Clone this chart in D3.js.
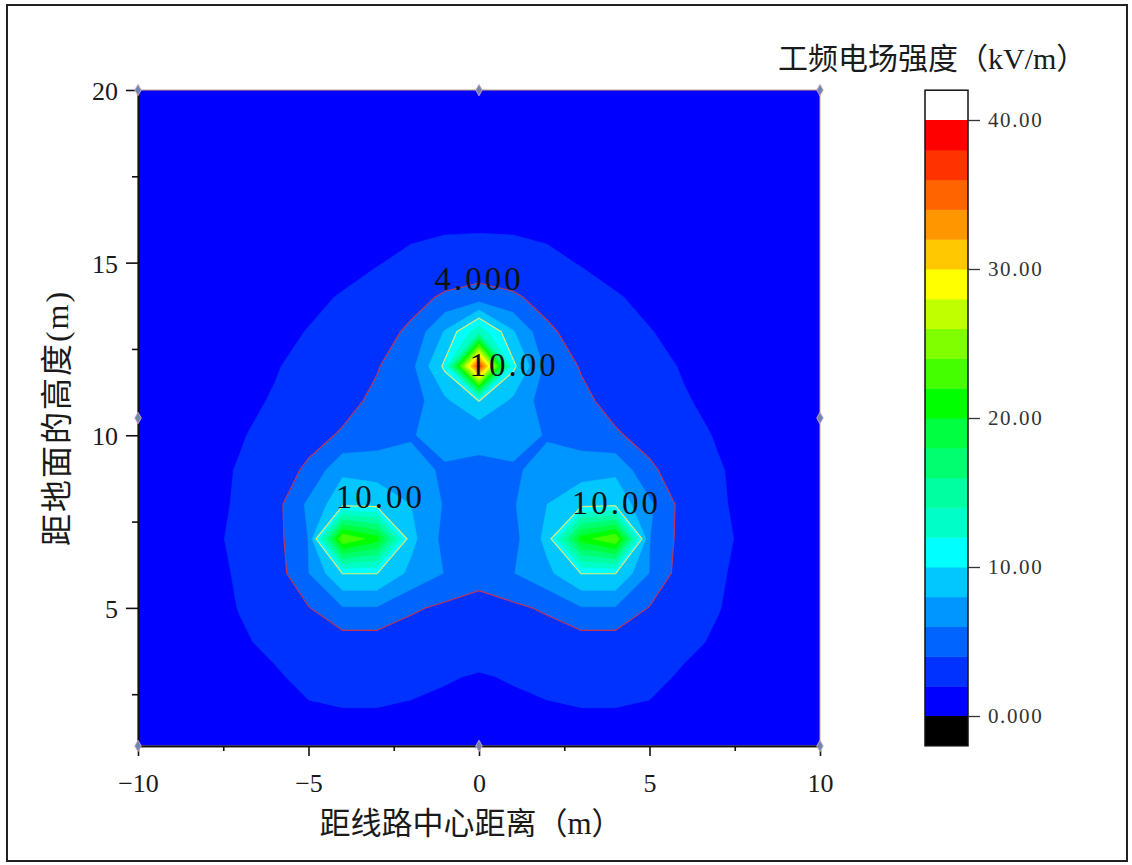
<!DOCTYPE html>
<html>
<head>
<meta charset="utf-8">
<script src="https://cdn.jsdelivr.net/npm/d3@7"></script>
<style>
body { margin: 0; background: #fff; }
svg text { font-family: "Liberation Serif", "Noto Sans CJK SC", serif; fill: #1a1a1a; }
</style>
</head>
<body>
<svg width="1132" height="865"></svg>
<script>
// grid nodes (m)
var gridX = [-10, -9, -8, -7, -6, -5, -4, -3, -2, -1, 0, 1, 2, 3, 4, 5, 6, 7, 8, 9, 10];
var gridY = [20, 19, 18, 17, 16, 15, 14, 13, 12, 11, 10, 9, 8, 7, 6, 5, 4, 3, 2, 1];

// field strength kV/m, one row per gridY (top row first)
var fieldGrid = [
	[0.40,0.44,0.48,0.52,0.57,0.61,0.65,0.69,0.72,0.74,0.75,0.74,0.72,0.69,0.65,0.61,0.57,0.52,0.48,0.44,0.40],
	[0.44,0.48,0.53,0.58,0.64,0.70,0.75,0.80,0.84,0.87,0.88,0.87,0.84,0.80,0.75,0.70,0.64,0.58,0.53,0.48,0.44],
	[0.49,0.54,0.60,0.66,0.74,0.81,0.88,0.95,1.00,1.04,1.05,1.04,1.00,0.95,0.88,0.81,0.74,0.66,0.60,0.54,0.49],
	[0.55,0.62,0.69,0.78,0.87,0.97,1.07,1.17,1.26,1.32,1.35,1.32,1.26,1.17,1.07,0.97,0.87,0.78,0.69,0.62,0.55],
	[0.62,0.70,0.79,0.89,1.00,1.13,1.28,1.45,1.65,1.80,1.84,1.80,1.65,1.45,1.28,1.13,1.00,0.89,0.79,0.70,0.62],
	[0.64,0.72,0.82,0.95,1.10,1.30,1.55,1.90,2.40,2.80,2.90,2.80,2.40,1.90,1.55,1.30,1.10,0.95,0.82,0.72,0.64],
	[0.73,0.84,0.97,1.15,1.40,1.70,2.10,2.70,3.40,4.25,4.77,4.25,3.40,2.70,2.10,1.70,1.40,1.15,0.97,0.84,0.73],
	[0.79,0.92,1.10,1.35,1.65,2.05,2.60,3.30,4.30,8.17,13.4,8.17,4.30,3.30,2.60,2.05,1.65,1.35,1.10,0.92,0.79],
	[0.82,0.98,1.20,1.50,1.90,2.40,3.00,3.85,5.33,10.46,37.0,10.46,5.33,3.85,3.00,2.40,1.90,1.50,1.20,0.98,0.82],
	[0.90,1.10,1.35,1.70,2.10,2.75,3.40,4.40,4.90,7.60,10.05,7.60,4.90,4.40,3.40,2.75,2.10,1.70,1.35,1.10,0.90],
	[0.98,1.20,1.50,1.90,2.45,3.40,4.20,4.90,5.85,6.80,6.39,6.80,5.85,4.90,4.20,3.40,2.45,1.90,1.50,1.20,0.98],
	[1.05,1.30,1.60,2.10,3.10,4.30,7.60,7.30,6.60,5.75,5.70,5.75,6.60,7.30,7.60,4.30,3.10,2.10,1.60,1.30,1.05],
	[1.10,1.35,1.65,2.15,3.20,6.40,9.40,9.20,8.00,5.80,5.20,5.80,8.00,9.20,9.40,6.40,3.20,2.15,1.65,1.35,1.10],
	[1.10,1.30,1.60,2.35,3.20,6.05,24.0,21.0,8.60,5.35,5.00,5.35,8.60,21.0,24.0,6.05,3.20,2.35,1.60,1.30,1.10],
	[1.10,1.30,1.60,2.15,2.90,5.95,10.05,10.05,7.49,5.92,4.50,5.92,7.49,10.05,10.05,5.95,2.90,2.15,1.60,1.30,1.10],
	[1.05,1.25,1.55,2.05,2.75,3.90,5.87,5.87,4.30,3.60,3.50,3.60,4.30,5.87,5.87,3.90,2.75,2.05,1.55,1.25,1.05],
	[1.00,1.20,1.45,1.85,2.25,2.75,3.00,3.00,2.90,2.70,2.60,2.70,2.90,3.00,3.00,2.75,2.25,1.85,1.45,1.20,1.00],
	[0.95,1.10,1.30,1.60,1.85,2.30,2.40,2.40,2.30,2.10,1.90,2.10,2.30,2.40,2.40,2.30,1.85,1.60,1.30,1.10,0.95],
	[0.85,1.00,1.15,1.40,1.65,1.85,1.95,1.95,1.85,1.70,1.55,1.70,1.85,1.95,1.95,1.85,1.65,1.40,1.15,1.00,0.85],
	[0.80,0.90,1.05,1.25,1.45,1.60,1.70,1.70,1.60,1.45,1.35,1.45,1.60,1.70,1.70,1.60,1.45,1.25,1.05,0.90,0.80]
];

// contour levels and colour map (one colour per band, from the colour bar)
var levels = [0, 2, 4, 6, 8, 10, 12, 14, 16, 18, 20, 22, 24, 26, 28, 30, 32, 34, 36, 38, 40];
var bandColors = ["#0000ff", "#0032ff", "#0064ff", "#0096ff", "#00c8ff",
	"#00ffff", "#00ffc8", "#00ffa0", "#00ff70", "#00ff40",
	"#00ff00", "#44ff00", "#80ff00", "#c0ff00", "#ffff00",
	"#ffc800", "#ff9600", "#ff6400", "#ff3200", "#ff0000"];
var overColor = "#ffffff";
var underColor = "#000000";

// labelled contour lines
var lineLevels = [4, 10];
var lineLabels = ["4.000", "10.00"];

var xTicks = [-10, -5, 0, 5, 10];
var xMinorTicks = [-7.5, -2.5, 2.5, 7.5];
var yTicks = [5, 10, 15, 20];
var yMinorTicks = [2.5, 7.5, 12.5, 17.5];
var barTicks = [0, 10, 20, 30, 40];

var xTitle = "距线路中心距离（m）";
var yTitle = "距地面的高度(m)";
var barTitle = "工频电场强度（kV/m）";


var svg = d3.select("svg");

var plot = { left: 138, right: 820, top: 90, bottom: 746 };

var x = d3.scaleLinear()
		.domain([gridX[0], gridX[gridX.length - 1]])
		.range([plot.left, plot.right]);

var y = d3.scaleLinear()
		.domain([gridY[gridY.length - 1], gridY[0]])
		.range([plot.bottom, plot.top]);

// outer frame of the figure
svg.append("rect")
		.attr("x", 7).attr("y", 5)
		.attr("width", 1120).attr("height", 856)
		.attr("fill", "none")
		.attr("stroke", "#222")
		.attr("stroke-width", 2);

svg.append("clipPath")
		.attr("id", "plotclip")
	.append("rect")
		.attr("x", plot.left).attr("y", plot.top)
		.attr("width", plot.right - plot.left)
		.attr("height", plot.bottom - plot.top);

// d3.contours puts node (i, j) at (i + 0.5, j + 0.5)
var nx = gridX.length, ny = gridY.length;
var stepX = gridX[1] - gridX[0], stepY = gridY[0] - gridY[1];
var toScreen = d3.geoTransform({
	point: function(gx, gy) {
		this.stream.point(x(gridX[0] + (gx - 0.5) * stepX), y(gridY[0] - (gy - 0.5) * stepY));
	}
});
var path = d3.geoPath(toScreen);

var values = [];
fieldGrid.forEach(function(row) { row.forEach(function(v) { values.push(v); }); });

var contours = d3.contours()
		.size([nx, ny])
		.thresholds(levels)(values);

function bandColor(v) {
	var i = levels.indexOf(v);
	if (i < 0) return underColor;
	if (i >= bandColors.length) return overColor;
	return bandColors[i];
}

var field = svg.append("g")
		.attr("clip-path", "url(#plotclip)");

field.selectAll("path.band")
	.data(contours)
	.enter().append("path")
		.attr("class", "band")
		.attr("d", path)
		.attr("fill", function(d) { return bandColor(d.value); })
		.attr("stroke", function(d) { return bandColor(d.value); })
		.attr("stroke-width", 0.6);

// contour lines
var lines = d3.contours()
		.size([nx, ny])
		.thresholds(lineLevels)(values);

field.selectAll("path.line")
	.data(lines)
	.enter().append("path")
		.attr("class", "line")
		.attr("d", path)
		.attr("fill", "none")
		.attr("stroke", function(d, i) { return i == 0 ? "#c8324e" : "#e4ec74"; })
		.attr("stroke-width", 1.1);

// contour labels (anchor in data units)
var labelSpots = [
	{ t: lineLabels[0], x: 0, y: 14.2, anchor: "middle" },
	{ t: lineLabels[1], x: -0.28, y: 11.73, anchor: "start" },
	{ t: lineLabels[1], x: -4.2, y: 7.9, anchor: "start" },
	{ t: lineLabels[1], x: 2.72, y: 7.72, anchor: "start" }
];

svg.append("g")
	.selectAll("text")
	.data(labelSpots)
	.enter().append("text")
		.attr("x", function(d) { return x(d.x); })
		.attr("y", function(d) { return y(d.y); })
		.attr("text-anchor", function(d) { return d.anchor; })
		.attr("font-size", 33)
		.attr("letter-spacing", 3)
		.style("fill", "#111")
		.text(function(d) { return d.t; });

// plot border
svg.append("rect")
		.attr("x", plot.left).attr("y", plot.top)
		.attr("width", plot.right - plot.left)
		.attr("height", plot.bottom - plot.top)
		.attr("fill", "none")
		.attr("stroke", "#c9a27e")
		.attr("stroke-width", 1);

// axes
var xAxis = svg.append("g")
		.attr("transform", "translate(0," + plot.bottom + ")")
		.call(d3.axisBottom(x).tickValues(xTicks).tickSize(10).tickPadding(18).tickSizeOuter(0));

svg.append("g")
		.attr("transform", "translate(0," + plot.bottom + ")")
		.call(d3.axisBottom(x).tickValues(xMinorTicks).tickSize(5).tickFormat("").tickSizeOuter(0));

var yAxis = svg.append("g")
		.attr("transform", "translate(" + plot.left + ",0)")
		.call(d3.axisLeft(y).tickValues(yTicks).tickSize(12).tickPadding(8).tickSizeOuter(0));

svg.append("g")
		.attr("transform", "translate(" + plot.left + ",0)")
		.call(d3.axisLeft(y).tickValues(yMinorTicks).tickSize(6).tickFormat("").tickSizeOuter(0));

svg.selectAll(".tick line").attr("stroke", "#111").attr("stroke-width", 1.6);
svg.selectAll(".domain").attr("stroke", "#111").attr("stroke-width", 1.6);
xAxis.selectAll("text").attr("font-size", 26);
yAxis.selectAll("text").attr("font-size", 26).attr("dy", "0.36em");
svg.selectAll(".tick text").style("fill", "#1a1a1a");

// markers on the grid boundary
var xs = [gridX[0], (gridX[0] + gridX[nx - 1]) / 2, gridX[nx - 1]];
var ys = [gridY[ny - 1], (gridY[0] + gridY[ny - 1]) / 2, gridY[0]];
var marks = [];
xs.forEach(function(a, i) {
	ys.forEach(function(b, j) {
		if (i == 1 && j == 1) return;
		marks.push([a, b]);
	});
});
svg.append("g")
	.selectAll("path")
	.data(marks)
	.enter().append("path")
		.attr("transform", function(d) { return "translate(" + x(d[0]) + "," + y(d[1]) + ")"; })
		.attr("d", d3.symbol(d3.symbolDiamond).size(38))
		.attr("fill", "#6d87ad")
		.attr("stroke", "#e7a9c4")
		.attr("stroke-width", 0.8);

// axis titles
svg.append("text")
		.attr("x", 471)
		.attr("y", 834)
		.attr("text-anchor", "middle")
		.attr("font-size", 31)
		.text(xTitle);

svg.append("text")
		.attr("transform", "translate(68,418) rotate(-90)")
		.attr("text-anchor", "middle")
		.attr("font-size", 32)
		.attr("letter-spacing", 2)
		.text(yTitle);

// colour bar
var bar = { left: 925, width: 43 };
var cy = d3.scaleLinear()
		.domain([levels[0], levels[levels.length - 1]])
		.range([716, 120]);
var bandH = cy(levels[0]) - cy(levels[1]);

var cb = svg.append("g");

cb.selectAll("rect.band")
	.data(bandColors)
	.enter().append("rect")
		.attr("class", "band")
		.attr("x", bar.left)
		.attr("width", bar.width)
		.attr("y", function(d, i) { return cy(levels[i + 1]); })
		.attr("height", function(d, i) { return cy(levels[i]) - cy(levels[i + 1]) + 0.5; })
		.attr("fill", function(d) { return d; });

cb.append("rect")
		.attr("x", bar.left).attr("width", bar.width)
		.attr("y", cy(levels[levels.length - 1]) - bandH)
		.attr("height", bandH)
		.attr("fill", overColor);

cb.append("rect")
		.attr("x", bar.left).attr("width", bar.width)
		.attr("y", cy(levels[0]))
		.attr("height", bandH)
		.attr("fill", underColor);

cb.append("rect")
		.attr("x", bar.left).attr("width", bar.width)
		.attr("y", cy(levels[levels.length - 1]) - bandH)
		.attr("height", cy(levels[0]) - cy(levels[levels.length - 1]) + 2 * bandH)
		.attr("fill", "none")
		.attr("stroke", "#111")
		.attr("stroke-width", 1.5);

var barAxis = svg.append("g")
		.attr("transform", "translate(" + (bar.left + bar.width) + ",0)")
		.call(d3.axisRight(cy)
			.tickValues(barTicks)
			.tickSize(12)
			.tickPadding(8)
			.tickSizeOuter(0)
			.tickFormat(function(d) { return d == 0 ? "0.000" : d.toFixed(2); }));

barAxis.select(".domain").remove();
barAxis.selectAll(".tick line").attr("stroke", "#333").attr("stroke-width", 1.3);
barAxis.selectAll("text")
		.attr("font-size", 21)
		.attr("letter-spacing", 1.6)
		.style("fill", "#333");

svg.append("text")
		.attr("x", 778)
		.attr("y", 69)
		.attr("font-size", 30)
		.text(barTitle);
</script>
</body>
</html>
